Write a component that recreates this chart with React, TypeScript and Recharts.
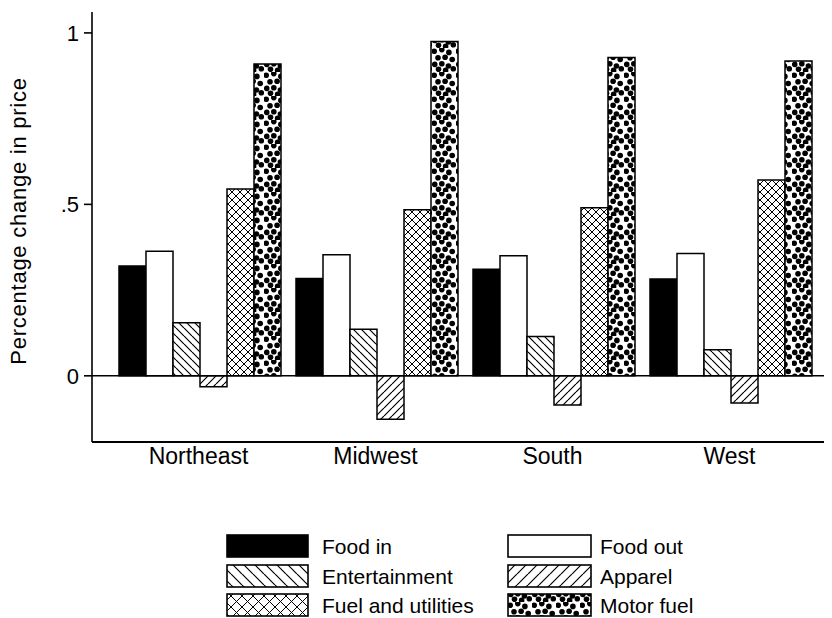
import React from 'react';
import { BarChart, Bar, XAxis, YAxis, ReferenceLine, Legend } from 'recharts';

const regions = ['Northeast', 'Midwest', 'South', 'West'];
const foodIn = [0.32, 0.284, 0.311, 0.282];
const foodOut = [0.363, 0.353, 0.35, 0.357];
const entertainment = [0.155, 0.136, 0.115, 0.076];
const apparel = [-0.032, -0.127, -0.085, -0.079];
const fuelUtilities = [0.545, 0.484, 0.49, 0.571];
const motorFuel = [0.909, 0.975, 0.928, 0.918];

const yTicks = [0, 0.5, 1];
const yTickLabels: Record<string, string> = { '0': '0', '0.5': '.5', '1': '1' };

const seriesNames = ['Food in', 'Food out', 'Entertainment', 'Apparel', 'Fuel and utilities', 'Motor fuel'];
const seriesKeys = ['foodIn', 'foodOut', 'entertainment', 'apparel', 'fuelUtilities', 'motorFuel'];
const seriesFills = ['#000', '#fff', 'url(#pEnt)', 'url(#pApp)', 'url(#pFuel)', 'url(#pDots)'];
const legendFills = ['#000', '#fff', 'url(#lgEnt)', 'url(#lgApp)', 'url(#lgFuel)', 'url(#lgDots)'];

const data = regions.map((r, i) => ({
  region: r,
  foodIn: foodIn[i],
  foodOut: foodOut[i],
  entertainment: entertainment[i],
  apparel: apparel[i],
  fuelUtilities: fuelUtilities[i],
  motorFuel: motorFuel[i],
}));

const FONT = '"Liberation Sans", Arial, Helvetica, sans-serif';

const dotPositions = [
  [2.2, 3.3], [9.8, 1.6], [16.9, 4.4], [6, 9.8], [13.1, 9.3], [20.2, 11.5], [2.7, 16.4], [9.8, 15.8], [16.4, 18], [6.5, 21.3], [13.6, 22.4], [21.3, 20.7],
];

function Patterns({ prefix, spacing }: { prefix: string; spacing: number }) {
  return (
    <defs>
      <pattern id={`${prefix}Ent`} patternUnits="userSpaceOnUse" width={spacing} height={spacing}>
        <rect width={spacing} height={spacing} fill="#fff" />
        <path d={`M0,0 L${spacing},${spacing} M${-spacing},0 L0,${spacing} M${spacing},0 L${2 * spacing},${spacing}`} stroke="#000" strokeWidth={1.2} />
      </pattern>
      <pattern id={`${prefix}App`} patternUnits="userSpaceOnUse" width={spacing} height={spacing}>
        <rect width={spacing} height={spacing} fill="#fff" />
        <path d={`M0,${spacing} L${spacing},0 M${-spacing},${spacing} L0,0 M${spacing},${spacing} L${2 * spacing},0`} stroke="#000" strokeWidth={1.2} />
      </pattern>
      <pattern id={`${prefix}Fuel`} patternUnits="userSpaceOnUse" width={spacing} height={spacing}>
        <rect width={spacing} height={spacing} fill="#fff" />
        <path d={`M0,0 L${spacing},${spacing} M${-spacing},0 L0,${spacing} M${spacing},0 L${2 * spacing},${spacing} M0,${spacing} L${spacing},0 M${-spacing},${spacing} L0,0 M${spacing},${spacing} L${2 * spacing},0`} stroke="#000" strokeWidth={1} />
      </pattern>
      <pattern id={`${prefix}Dots`} patternUnits="userSpaceOnUse" width={24} height={24}>
        <rect width={24} height={24} fill="#fff" />
        {dotPositions.map(([x, y], i) => (
          <circle key={i} cx={x} cy={y} r={2.8} fill="#000" />
        ))}
      </pattern>
    </defs>
  );
}

function renderLegend() {
  const cols = [{ box: 7, w: 81, text: 102 }, { box: 288, w: 83, text: 380 }];
  const rowTop = [5, 35, 64];
  return (
    <svg width={480} height={88} style={{ display: 'block' }}>
      <Patterns prefix="lg" spacing={11} />
      {seriesNames.map((name, i) => {
        const c = cols[i % 2];
        const top = rowTop[Math.floor(i / 2)];
        return (
          <g key={name}>
            <rect x={c.box} y={top} width={c.w} height={22} fill={legendFills[i]} stroke="#000" strokeWidth={1.6} />
            <text x={c.text} y={top + 19} fontSize={21} fontFamily={FONT} fill="#000">{name}</text>
          </g>
        );
      })}
    </svg>
  );
}

function YLabel(props: any) {
  const vb = props.viewBox || {};
  const x = 26;
  const y = (vb.y || 0) + (vb.height || 0) / 2 - 6;
  return (
    <text x={x} y={y} transform={`rotate(-90, ${x}, ${y})`} textAnchor="middle" fontSize={22} letterSpacing={0.75} fontFamily={FONT} fill="#000">
      Percentage change in price
    </text>
  );
}

export default function App() {
  return (
    <div style={{ width: 832, height: 618, marginLeft: -8, marginTop: -8, overflow: 'hidden', position: 'relative', background: '#fff' }}>
      <BarChart
        width={858}
        height={618}
        data={data}
        margin={{ top: 12, right: 16, bottom: 136, left: 0 }}
        barCategoryGap={9}
        barGap={0}
      >
        <Patterns prefix="p" spacing={8} />
        <XAxis
          dataKey="region"
          axisLine={{ stroke: '#000', strokeWidth: 1.8 }}
          tickLine={false}
          tickSize={0}
          tickMargin={6}
          height={40}
          padding={{ left: 18, right: 24 }}
          tick={{ fill: '#000', fontSize: 23, fontFamily: FONT }}
          interval={0}
        />
        <XAxis
          xAxisId="top"
          dataKey="region"
          orientation="top"
          axisLine={{ stroke: '#000', strokeWidth: 1.8 }}
          tick={false}
          tickLine={false}
          height={0}
        />
        <YAxis
          domain={[-0.193, 1.061]}
          ticks={yTicks}
          allowDataOverflow
          width={92}
          axisLine={{ stroke: '#000', strokeWidth: 1.6 }}
          tickLine={{ stroke: '#000', strokeWidth: 1.6 }}
          tickSize={8}
          tickMargin={5}
          tick={{ fill: '#000', fontSize: 22, fontFamily: FONT }}
          tickFormatter={(v: number) => yTickLabels[String(v)] ?? String(v)}
          label={<YLabel />}
        />
        <ReferenceLine y={0} stroke="#000" strokeWidth={1.6} />
        {seriesKeys.map((k, i) => (
          <Bar
            key={k}
            dataKey={k}
            name={seriesNames[i]}
            fill={seriesFills[i]}
            stroke="#000"
            strokeWidth={1.5}
            isAnimationActive={false}
          />
        ))}
        <Legend
          layout="vertical"
          align="center"
          verticalAlign="middle"
          wrapperStyle={{ position: 'absolute', left: 220, top: 530, width: 480, height: 88 }}
          content={renderLegend}
        />
      </BarChart>
    </div>
  );
}
